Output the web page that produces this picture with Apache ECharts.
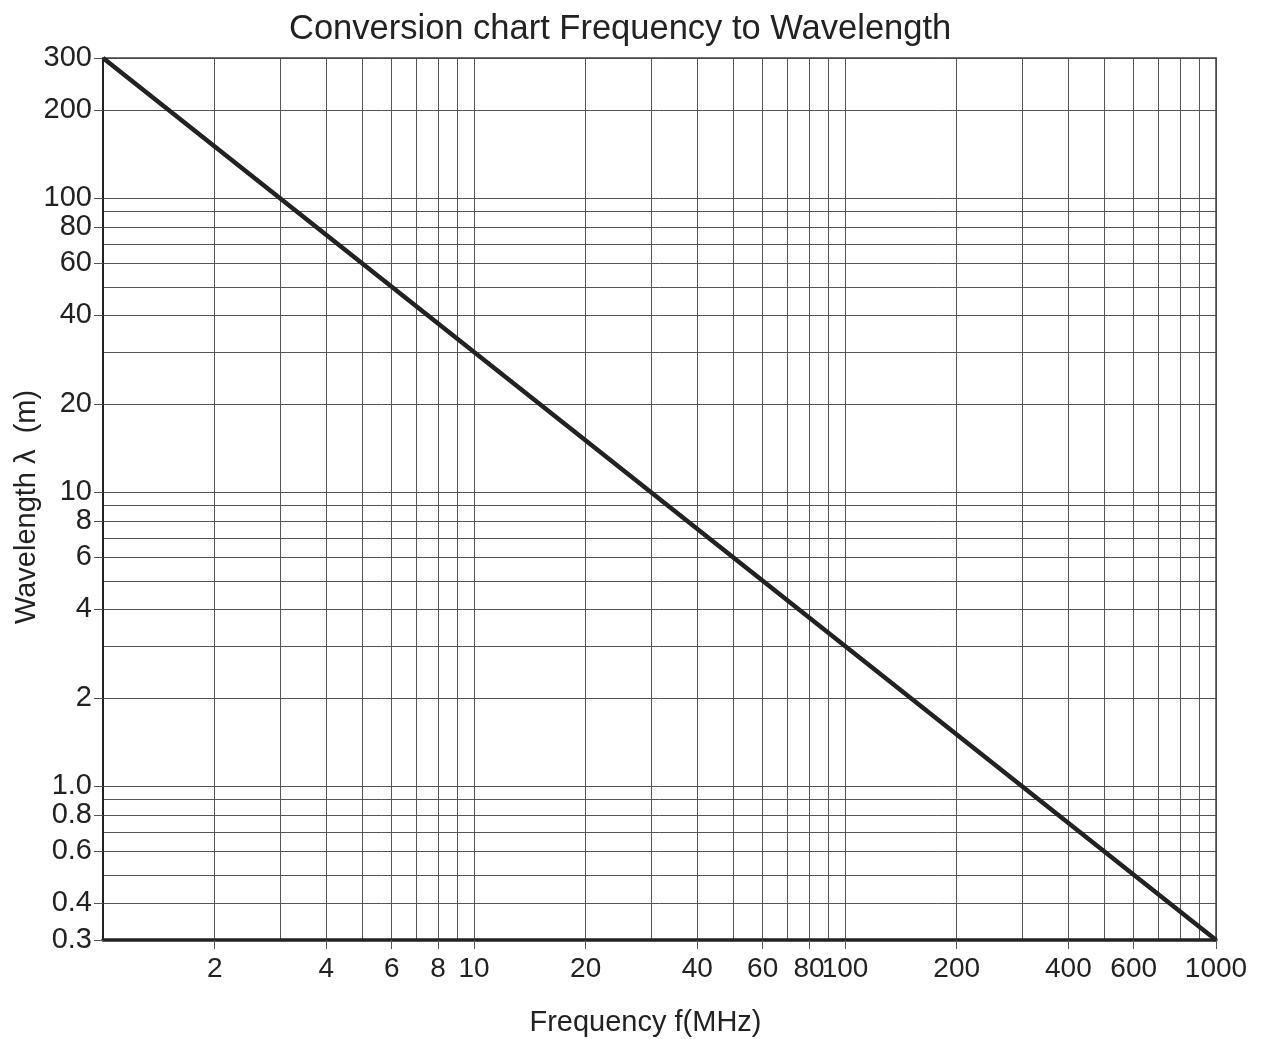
<!DOCTYPE html>
<html>
<head>
<meta charset="utf-8">
<script src="https://cdn.jsdelivr.net/npm/echarts@6/dist/echarts.min.js"></script>
<style>html,body{margin:0;padding:0;background:#fff}#c{width:1270px;height:1039px}</style>
</head>
<body>
<div id="c"></div>
<script>
// Data
const freqMHz = [1, 2, 3, 10, 30, 100, 300, 1000];
const wavelength = [300, 150, 100, 30, 10, 3, 1, 0.3];
const xLabelValues = [2, 4, 6, 8, 10, 20, 40, 60, 80, 100, 200, 400, 600, 1000];
const xGridValues = [1,2,3,4,5,6,7,8,9,10,20,30,40,50,60,70,80,90,100,200,300,400,500,600,700,800,900,1000];
const yLabelValues = [0.3, 0.4, 0.6, 0.8, 1, 2, 4, 6, 8, 10, 20, 40, 60, 80, 100, 200, 300];
const yGridValues = [0.3,0.4,0.5,0.6,0.7,0.8,0.9,1,2,3,4,5,6,7,8,9,10,20,30,40,50,60,70,80,90,100,200,300];

const FONT = 'Liberation Sans, Arial, sans-serif';
const INK = '#222';
const chart = echarts.init(document.getElementById('c'));
chart.setOption({
  animation: false,
  backgroundColor: '#fff',
  title: {
    text: 'Conversion chart Frequency to Wavelength',
    left: 284, top: 7,
    textStyle: {fontFamily: FONT, fontSize: 34.5, fontWeight: 'normal', color: INK}
  },
  grid: {left: 103, right: 54, top: 58, bottom: 99, containLabel: false, outerBoundsMode: 'none'},
  xAxis: [{
    type: 'log', logBase: 10, min: 1, max: 1000, position: 'bottom',
    name: 'Frequency f(MHz)', nameLocation: 'middle', nameGap: 68, nameMoveOverlap: false,
    nameTextStyle: {fontFamily: FONT, fontSize: 29, color: INK, padding: [0, 28, 0, 0]},
    axisLine: {show: true, lineStyle: {color: INK, width: 3.5}},
    axisTick: {show: true, length: 9, inside: false, customValues: xLabelValues, lineStyle: {color: '#555', width: 1}},
    axisLabel: {customValues: xLabelValues, margin: 15, fontFamily: FONT, fontSize: 28, color: INK,
      showMinLabel: true, showMaxLabel: true, hideOverlap: false, formatter: v => String(Math.round(v))},
    splitLine: {show: false}
  }, {
    type: 'log', logBase: 10, min: 1, max: 1000, position: 'top',
    axisLine: {show: true, lineStyle: {color: '#444', width: 1.5}},
    axisTick: {show: false, customValues: xGridValues},
    axisLabel: {show: false},
    splitLine: {show: true, lineStyle: {color: '#555', width: 1}}
  }],
  yAxis: [{
    type: 'log', logBase: 10, min: 0.3, max: 300, position: 'left',
    name: 'Wavelength \u03bb  (m)', nameLocation: 'middle', nameGap: 62, nameRotate: 90, nameMoveOverlap: false,
    nameTextStyle: {fontFamily: FONT, fontSize: 29, color: INK, padding: [0, 16, 0, 0]},
    axisLine: {show: true, lineStyle: {color: INK, width: 2}},
    axisTick: {show: true, length: 9, inside: false, customValues: yLabelValues, lineStyle: {color: '#555', width: 1}},
    axisLabel: {customValues: yLabelValues, margin: 11, fontFamily: FONT, fontSize: 29, color: INK,
      formatter: v => (v <= 1 ? Number(v).toFixed(1) : String(Math.round(v)))},
    splitLine: {show: false}
  }, {
    type: 'log', logBase: 10, min: 0.3, max: 300, position: 'right',
    axisLine: {show: true, lineStyle: {color: '#444', width: 1.5}},
    axisTick: {show: false, customValues: yGridValues},
    axisLabel: {show: false},
    splitLine: {show: true, lineStyle: {color: '#555', width: 1}}
  }],
  series: [{
    type: 'line', xAxisIndex: 0, yAxisIndex: 0,
    data: freqMHz.map((f, i) => [f, wavelength[i]]),
    symbol: 'none', lineStyle: {color: INK, width: 4.5}, z: 10
  }]
});
</script>
</body>
</html>
